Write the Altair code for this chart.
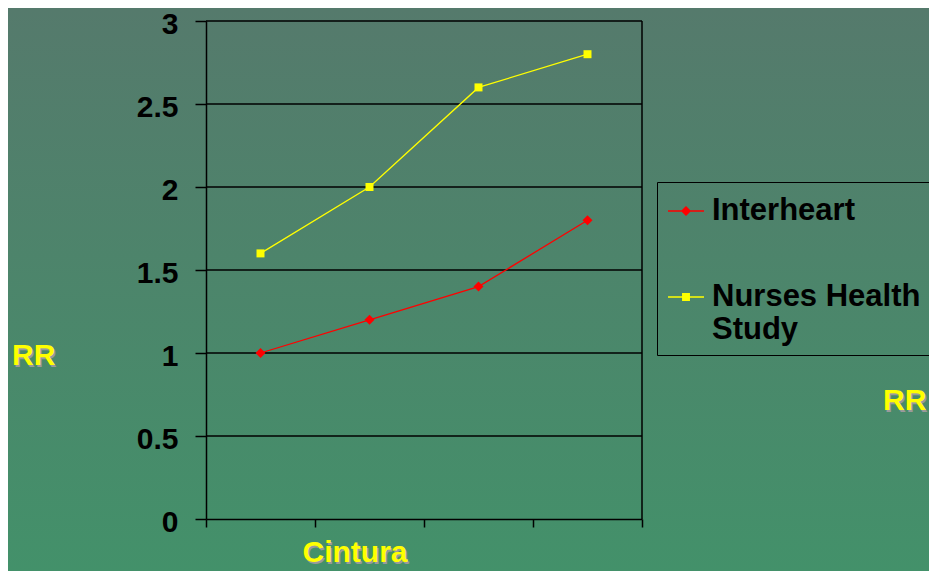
import altair as alt
import pandas as pd

# ---- data ----
categories = ["1", "2", "3", "4"]
series = ["Interheart", "Nurses Health Study"]
interheart = [1.0, 1.2, 1.4, 1.8]
nurses = [1.6, 2.0, 2.6, 2.8]
y_ticks = [0, 0.5, 1, 1.5, 2, 2.5, 3]
grid_vals = [0.5, 1, 1.5, 2, 2.5, 3]

rows = []
for c, v in zip(categories, interheart):
    rows.append({"cat": c, "rr": v, "series": series[0]})
for c, v in zip(categories, nurses):
    rows.append({"cat": c, "rr": v, "series": series[1]})
df = pd.DataFrame(rows)
grid_df = pd.DataFrame({"rr": grid_vals})
one = pd.DataFrame({"k": [0]})

W, H = 436, 498
PL, PT, PR, PB = 198, 13, 287, 52
FONT = "Liberation Sans"

x_enc = alt.X("cat:N", sort=categories,
              scale=alt.Scale(paddingInner=0, paddingOuter=0),
              axis=alt.Axis(labels=False, title=None, grid=False, tickBand="extent",
                            tickSize=8, tickColor="black", tickWidth=1.5,
                            domainColor="black", domainWidth=1.5, zindex=1))
y_scale = alt.Scale(domain=[0, 3], nice=False, zero=True)
y_axis = alt.Axis(values=y_ticks, format=".1~f", title=None, grid=False,
                  tickSize=11, tickColor="black", tickWidth=1.5,
                  domainColor="black", domainWidth=1.5,
                  labelFont=FONT, labelFontSize=30, labelFontWeight="bold",
                  labelColor="black", labelPadding=17, labelOffset=3, zindex=1)
y_enc = alt.Y("rr:Q", scale=y_scale, axis=y_axis)

bg_grad = {
    "gradient": "linear", "x1": 0, "y1": 0, "x2": 0, "y2": 1,
    "stops": [{"offset": 0, "color": "#557a6c"}, {"offset": 1, "color": "#43916a"}],
}
bg = alt.Chart(one).mark_rect(fill=bg_grad).encode(
    x=alt.value(-PL), x2=alt.value(W + PR), y=alt.value(-PT), y2=alt.value(H + PB)
)

grid = alt.Chart(grid_df).mark_rule(color="black", strokeWidth=1.5).encode(
    y=alt.Y("rr:Q", scale=y_scale, axis=y_axis)
)
right_border = alt.Chart(one).mark_rule(color="black", strokeWidth=1.5).encode(
    x=alt.value(W), y=alt.value(0), y2=alt.value(H)
)

stroke_scale = alt.Scale(domain=series, range=["#ff0000", "#ffff00"])
lines = alt.Chart(df).mark_line(strokeWidth=1.3).encode(
    x=x_enc, y=y_enc,
    stroke=alt.Stroke("series:N", scale=stroke_scale, legend=None),
    detail="series:N",
)
points = alt.Chart(df).mark_point(filled=True, opacity=1).encode(
    x=x_enc, y=y_enc,
    fill=alt.Fill("series:N", scale=stroke_scale, legend=None),
    shape=alt.Shape("series:N", scale=alt.Scale(domain=series, range=["diamond", "square"]), legend=None),
    size=alt.Size("series:N", scale=alt.Scale(domain=series, range=[100, 64]), legend=None),
)

path1 = "M-1,-0.045H1V0.045H-1Z M0,-0.28L0.28,0L0,0.28L-0.28,0Z"
path2 = "M-1,-0.045H1V0.045H-1Z M-0.22,-0.22H0.22V0.22H-0.22Z"
leg = dict(title=None, orient="none", legendX=451, legendY=161,
           strokeColor="black", padding=10, symbolSize=1296,
           labelFont=FONT, labelFontSize=31, labelFontWeight="bold", labelColor="black",
           labelLimit=600, labelOffset=7, rowPadding=52,
           labelExpr="datum.label == 'Nurses Health Study' ? ['Nurses Health', 'Study'] : datum.label")
legend_layer = alt.Chart(df).transform_filter("false").mark_point(
    filled=True, opacity=1, size=1296
).encode(
    fill=alt.Fill("series:N", scale=alt.Scale(domain=series, range=["#ff0000", "#ffff00"]),
                  legend=alt.Legend(**leg)),
    shape=alt.Shape("series:N", scale=alt.Scale(domain=series, range=[path1, path2]),
                    legend=alt.Legend(**leg)),
)

def label(txt, x, y, align="left", size=30):
    base = pd.DataFrame({"t": [txt]})
    shadow = alt.Chart(base).mark_text(
        font=FONT, fontSize=size, fontWeight="bold", color="#9a9a9a",
        align=align, baseline="middle", dx=1.5, dy=1.5
    ).encode(text="t:N", x=alt.value(x), y=alt.value(y))
    main = alt.Chart(base).mark_text(
        font=FONT, fontSize=size, fontWeight="bold", color="#ffff00",
        align=align, baseline="middle"
    ).encode(text="t:N", x=alt.value(x), y=alt.value(y))
    return [shadow, main]

texts = label("RR", -194, 335) + label("Cintura", 149, 532, align="center") + label("RR", 677, 380)

chart = alt.layer(bg, grid, right_border, lines, points, legend_layer, *texts).resolve_scale(
    fill="independent", shape="independent", size="independent"
).properties(
    width=W, height=H,
    padding={"left": PL, "top": PT, "right": PR, "bottom": PB},
    autosize=alt.AutoSizeParams(type="none"),
    background="#4a8468",
).configure_view(stroke=None)

chart.save("out.html", embed_options={"renderer": "svg", "actions": False})
